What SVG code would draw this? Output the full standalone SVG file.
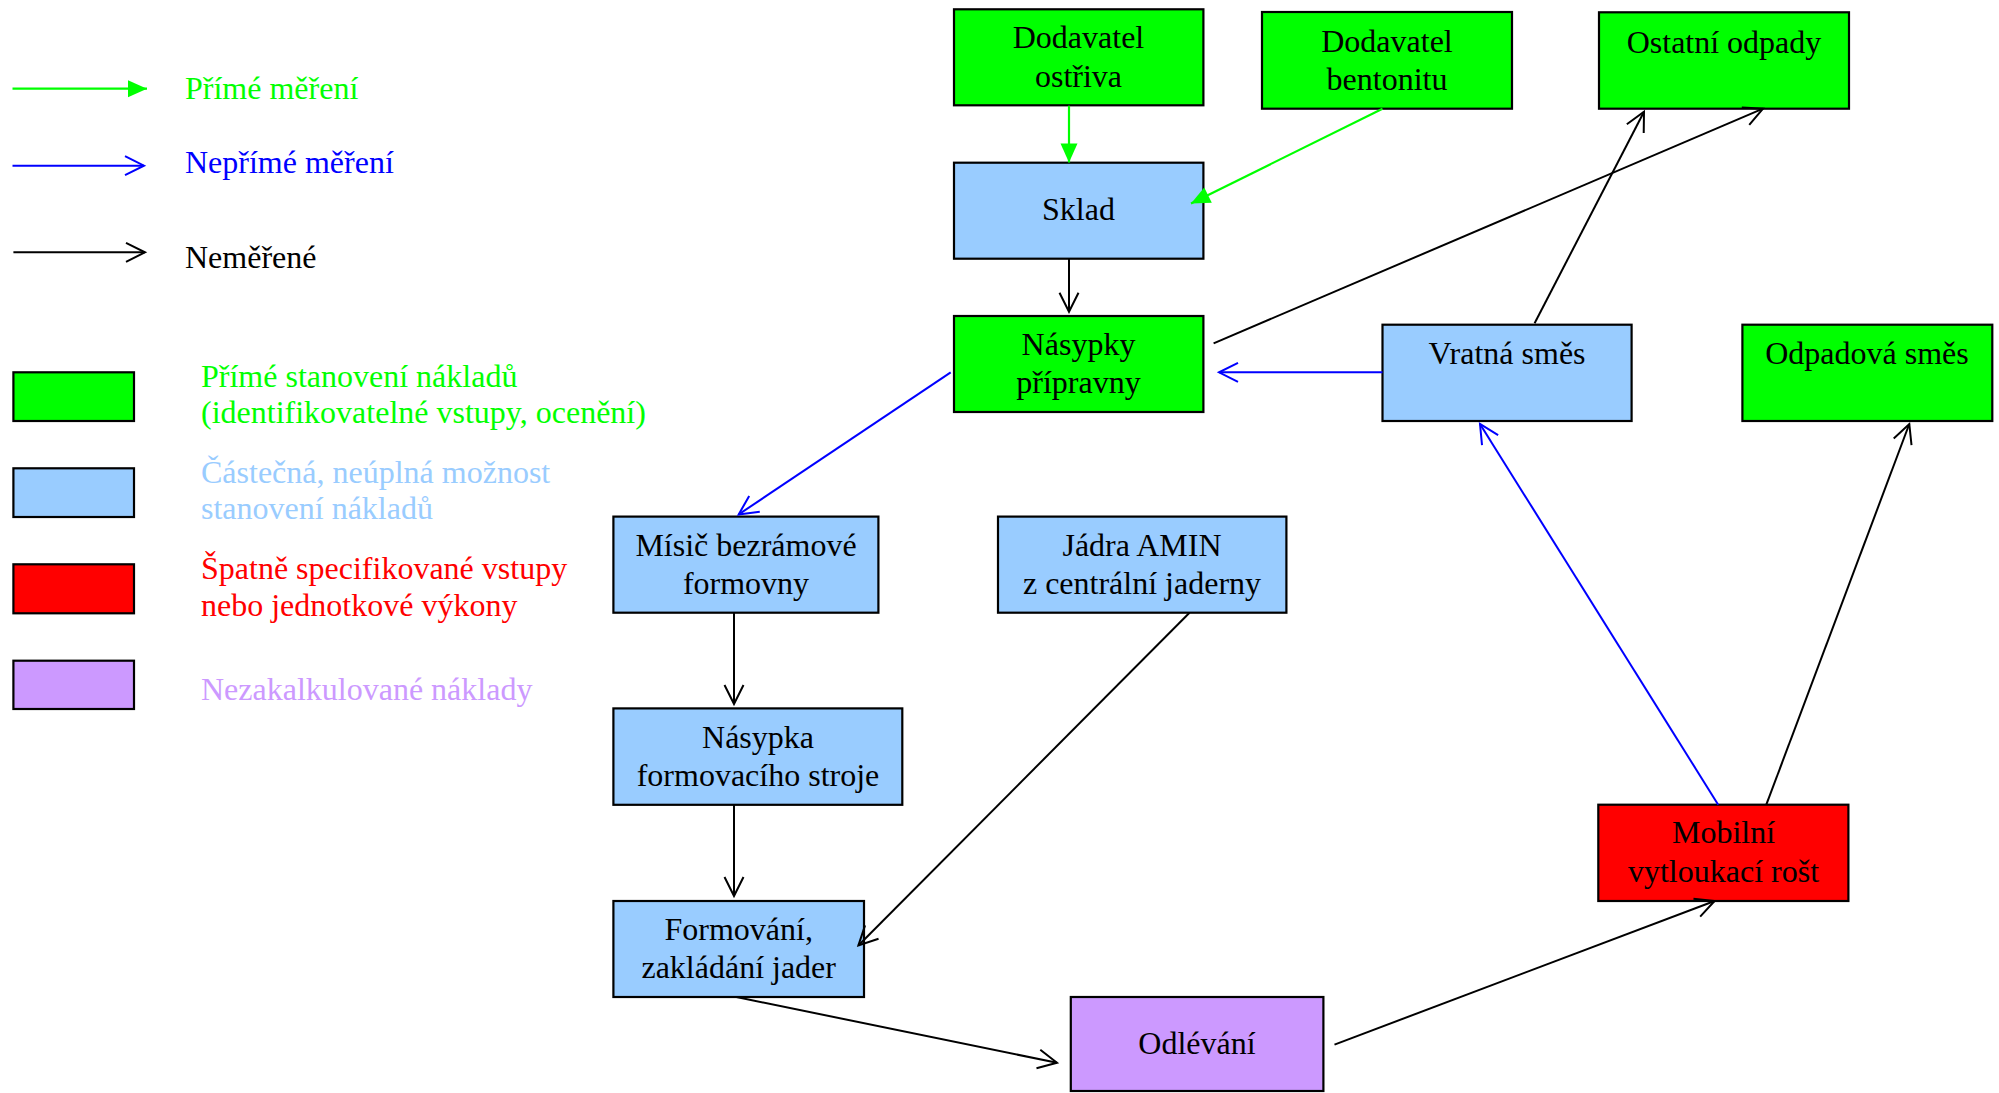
<svg xmlns="http://www.w3.org/2000/svg" width="1999" height="1093" viewBox="0 0 1999 1093">
<style>
.box{stroke:#000;stroke-width:2.2}
.g{fill:#00ff00}.b{fill:#99ccff}.r{fill:#ff0000}.p{fill:#cc99ff}
text{font-family:"Liberation Serif","Times New Roman",serif;font-size:32px}
.n text{text-anchor:middle;fill:#000}
.cg{stroke:#00ff00;stroke-width:2.2;fill:none}
.cb{stroke:#0000ff;stroke-width:2;fill:none}
.ck{stroke:#000;stroke-width:2;fill:none}
</style>
<defs>
<marker id="ag" markerUnits="userSpaceOnUse" viewBox="-22 -11 24 22" refX="0" refY="0" markerWidth="24" markerHeight="22" orient="auto" overflow="visible">
<path d="M-19,-8.5 L0,0 L-19,8.5 Z" fill="#00ff00"/>
</marker>
<marker id="ab" markerUnits="userSpaceOnUse" viewBox="-22 -12 24 24" refX="0" refY="0" markerWidth="24" markerHeight="24" orient="auto" overflow="visible">
<path d="M-19,-9.5 L0,0 L-19,9.5" fill="none" stroke="#0000ff" stroke-width="2"/>
</marker>
<marker id="ak" markerUnits="userSpaceOnUse" viewBox="-22 -12 24 24" refX="0" refY="0" markerWidth="24" markerHeight="24" orient="auto" overflow="visible">
<path d="M-19,-9.5 L0,0 L-19,9.5" fill="none" stroke="#000" stroke-width="2"/>
</marker>
</defs>
<rect width="1999" height="1093" fill="#fff"/>

<g id="legend">
<path class="cg" d="M12.5,88.7 L147,88.7" marker-end="url(#ag)"/>
<text x="185" y="99" fill="#00ff00">Přímé měření</text>
<path class="cb" d="M12.5,165.7 L144,165.7" marker-end="url(#ab)"/>
<text x="185" y="172.5" fill="#0000ff">Nepřímé měření</text>
<path class="ck" d="M13.4,252.3 L145,252.3" marker-end="url(#ak)"/>
<text x="185" y="268" fill="#000">Neměřené</text>
<rect class="box g" x="13.4" y="372.3" width="120.6" height="48.7"/>
<text x="201" y="386.5" fill="#00ff00">Přímé stanovení nákladů</text>
<text x="201" y="423.3" fill="#00ff00">(identifikovatelné vstupy, ocenění)</text>
<rect class="box b" x="13.4" y="468.3" width="120.6" height="48.7"/>
<text x="201" y="482.7" fill="#99ccff">Částečná, neúplná možnost</text>
<text x="201" y="519.3" fill="#99ccff">stanovení nákladů</text>
<rect class="box r" x="13.4" y="564.3" width="120.6" height="49"/>
<text x="201" y="579.3" fill="#ff0000">Špatně specifikované vstupy</text>
<text x="201" y="616" fill="#ff0000">nebo jednotkové výkony</text>
<rect class="box p" x="13.4" y="660.7" width="120.6" height="48.3"/>
<text x="201" y="700" fill="#cc99ff">Nezakalkulované náklady</text>
</g>

<g id="dodavatel-ostriva" class="n">
<rect class="box g" x="954" y="9.3" width="249.4" height="96"/>
<text x="1078.5" y="48">Dodavatel</text>
<text x="1078.5" y="87">ostřiva</text>
</g>
<g id="dodavatel-bentonitu" class="n">
<rect class="box g" x="1262" y="12" width="250" height="96.7"/>
<text x="1387" y="51.7">Dodavatel</text>
<text x="1387" y="90">bentonitu</text>
</g>
<g id="ostatni-odpady" class="n">
<rect class="box g" x="1599" y="12.3" width="250" height="96.4"/>
<text x="1724" y="53">Ostatní odpady</text>
</g>
<g id="sklad" class="n">
<rect class="box b" x="954" y="162.7" width="249.4" height="96"/>
<text x="1078.5" y="220">Sklad</text>
</g>
<g id="nasypky-pripravny" class="n">
<rect class="box g" x="954" y="316" width="249.4" height="96"/>
<text x="1078.5" y="355">Násypky</text>
<text x="1078.5" y="393">přípravny</text>
</g>
<g id="vratna-smes" class="n">
<rect class="box b" x="1382.5" y="324.7" width="249.1" height="96.3"/>
<text x="1507" y="364">Vratná směs</text>
</g>
<g id="odpadova-smes" class="n">
<rect class="box g" x="1742.4" y="324.7" width="249.9" height="96.3"/>
<text x="1867" y="364">Odpadová směs</text>
</g>
<g id="misic" class="n">
<rect class="box b" x="613.4" y="516.6" width="265" height="96.1"/>
<text x="746" y="556">Mísič bezrámové</text>
<text x="746" y="594">formovny</text>
</g>
<g id="jadra-amin" class="n">
<rect class="box b" x="998" y="516.6" width="288.4" height="96.1"/>
<text x="1142" y="556">Jádra AMIN</text>
<text x="1142" y="594">z centrální jaderny</text>
</g>
<g id="nasypka-formovaciho-stroje" class="n">
<rect class="box b" x="613.4" y="708.4" width="288.9" height="96.4"/>
<text x="758" y="748">Násypka</text>
<text x="758" y="786">formovacího stroje</text>
</g>
<g id="formovani" class="n">
<rect class="box b" x="613.4" y="901" width="250.6" height="96"/>
<text x="738.7" y="940">Formování,</text>
<text x="738.7" y="978.4">zakládání jader</text>
</g>
<g id="odlevani" class="n">
<rect class="box p" x="1070.8" y="997" width="252.6" height="94"/>
<text x="1197" y="1054">Odlévání</text>
</g>
<g id="mobilni-vytloukaci-rost" class="n">
<rect class="box r" x="1598.3" y="804.7" width="250.1" height="96.3"/>
<text x="1723.5" y="843">Mobilní</text>
<text x="1723.5" y="882">vytloukací rošt</text>
</g>

<g id="connectors">
<path class="cg" d="M1069,105.7 L1069,162.5" marker-end="url(#ag)"/>
<path class="cg" d="M1382.5,108.7 L1191,203.5" marker-end="url(#ag)"/>
<path class="ck" d="M1069,258.7 L1069,311.7" marker-end="url(#ak)"/>
<path class="ck" d="M1213.6,343.3 L1763,108.7" marker-end="url(#ak)"/>
<path class="ck" d="M1534.6,323.3 L1644,111.7" marker-end="url(#ak)"/>
<path class="cb" d="M1382.5,372.3 L1219,372.3" marker-end="url(#ab)"/>
<path class="cb" d="M950.7,372.3 L738.7,514.4" marker-end="url(#ab)"/>
<path class="ck" d="M734,612.7 L734,704" marker-end="url(#ak)"/>
<path class="ck" d="M734,804.8 L734,896" marker-end="url(#ak)"/>
<path class="ck" d="M1189.5,612.7 L858.4,945.5" marker-end="url(#ak)"/>
<path class="ck" d="M736.4,997 L1057,1062.8" marker-end="url(#ak)"/>
<path class="ck" d="M1334.5,1044.6 L1714.6,901" marker-end="url(#ak)"/>
<path class="cb" d="M1718.2,804.7 L1480,424" marker-end="url(#ab)"/>
<path class="ck" d="M1766.3,804.7 L1909.3,424" marker-end="url(#ak)"/>
</g>
</svg>
